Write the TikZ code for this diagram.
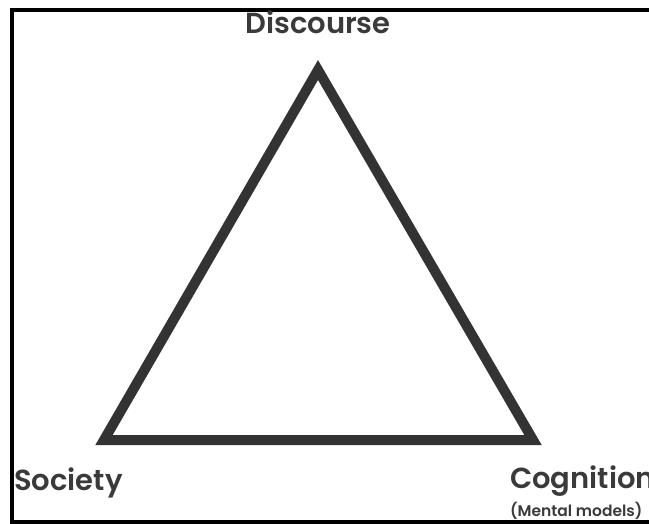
\documentclass[tikz,border=0pt]{standalone}
\usepackage{fontspec}
\setmainfont{Poppins}[BoldFont={Poppins SemiBold}]
\definecolor{tri}{HTML}{333333}
\definecolor{txt}{HTML}{3A3A3A}
\begin{document}
\begin{tikzpicture}[x=1pt,y=-1pt,
  lbl/.style={inner sep=0pt,text=txt,font=\fontsize{29}{32}\selectfont\bfseries},
  sublbl/.style={inner sep=0pt,text=txt,font=\fontsize{15.5}{17}\selectfont\bfseries},
  edge/.style={draw=tri,line width=10pt,line join=miter}]
\useasboundingbox (0,0) rectangle (649,524);
\clip (0,0) rectangle (649,524);
\fill[white] (0,0) rectangle (649,524);
\draw[line width=3.5pt] (12,10) rectangle (680,522);
\coordinate (top) at (318,70);
\coordinate (bl) at (104,440);
\coordinate (br) at (533,440);
\draw[edge] (top) -- (bl) -- (br) -- cycle;
\node[lbl,anchor=base] (disc) at (318,34) {Discourse};
\node[lbl,anchor=base west] (soc) at (14,490) {Society};
\node[lbl,anchor=base west] (cog) at (510,488) {Cognition};
\node[sublbl,anchor=base west] (ment) at (510,516) {(Mental models)};
\end{tikzpicture}
\end{document}
